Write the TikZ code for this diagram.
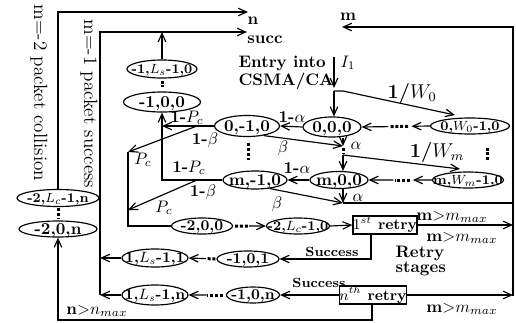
\documentclass[tikz,border=0pt]{standalone}
\usetikzlibrary{arrows.meta,shapes.geometric,calc}
\newcommand{\ct}[1]{\raisebox{-0.75ex}[0pt][0pt]{\makebox[0pt]{#1}}}
\tikzset{
  >={Straight Barb[length=5pt,width=4.5pt]},
  el/.style 2 args={ellipse,draw,inner sep=0pt,minimum width=#1*0.6pt,minimum height=#2*0.6pt,font=\bfseries},
  rbox/.style={rectangle,draw,inner sep=0pt,minimum width=34.8pt,minimum height=10.8pt,font=\small\bfseries},
  lbl/.style={inner sep=0pt,font=\bfseries},
  dotl/.style={line width=1.8pt,dash pattern=on 1.8pt off 1.1pt},
}
\begin{document}
\begin{tikzpicture}[x=0.6pt,y=-0.6pt,line width=0.7pt]
\useasboundingbox (0,0) rectangle (516,323);
% ellipses
\node[el={70}{18},font=\footnotesize\bfseries] (e1) at (162,69) {\ct{-1,$L_s$-1,0}};
\node[el={77}{20}] (e2) at (162,102) {\ct{-1,0,0}};
\node[el={65}{21}] (a0) at (247,126) {\ct{0,-1,0}};
\node[el={58}{20}] (b0) at (332,127) {\ct{0,0,0}};
\node[el={79}{16},font=\footnotesize\bfseries] (c0) at (470,126) {\ct{0,$W_0$-1,0}};
\node[el={64}{18}] (am) at (255,180) {\ct{m,-1,0}};
\node[el={58}{17}] (bm) at (339,180) {\ct{m,0,0}};
\node[el={71}{16},font=\footnotesize\bfseries] (cm) at (468,180) {\ct{m,$W_m$-1,0}};
\node[el={61}{16},font=\small\bfseries] (d1) at (202,226) {\ct{-2,0,0}};
\node[el={63}{16},font=\footnotesize\bfseries] (d2) at (298,226) {\ct{-2,$L_c$-1,0}};
\node[rbox] (r1) at (385,225) {$1^{st}$ retry};
\node[rbox] (rn) at (373,295) {$n^{th}$ retry};
\node[el={62}{16},font=\small\bfseries] (s1) at (248,259) {\ct{-1,0,1}};
\node[el={53}{16},font=\small\bfseries] (sn) at (253,295) {\ct{-1,0,n}};
\node[el={66}{18},font=\small\bfseries] (t1) at (155,258) {\ct{1,$L_s$-1,1}};
\node[el={66}{20},font=\small\bfseries] (tn) at (155,295) {\ct{1,$L_s$-1,n}};
\node[el={82}{17},font=\footnotesize\bfseries] (f1) at (58,198) {\ct{-2,$L_c$-1,n}};
\node[el={78}{16}] (f2) at (58,229) {\ct{-2,0,n}};
% coordinates
\coordinate (ntip) at (248,12);
\coordinate (stip) at (247,32);
\coordinate (mtip) at (342,27);
\coordinate (Rt) at (513,27);
\coordinate (Rb) at (513,296);
\coordinate (L1) at (100,295);
\coordinate (Itop) at (334,57);
\coordinate (K1) at (334,88);
\coordinate (K) at (334,91);
\coordinate (K2) at (343,91);
\coordinate (W0tip) at (455,115);
\coordinate (J0) at (343,146);
\coordinate (Jd) at (343,155);
\coordinate (Wmtip) at (460,169);
\coordinate (Jm) at (343,203);
\coordinate (Rm) at (513,203);
\coordinate (p0) at (197,126);
\coordinate (pc0) at (128,152);
\coordinate (pm) at (197,180);
\coordinate (pcm) at (128,210);
\coordinate (bl) at (58,320);
% texts
\node[rotate=-90,font=\fontsize{11.5}{14}\selectfont] (tcol) at (39,93) {m=-2 packet collision};
\node[rotate=-90,font=\fontsize{11.5}{14}\selectfont] (tsuc) at (89,104) {m=-1 packet success};
\node[lbl] (ln) at (253,21) {n};
\node[lbl] (ls) at (265,40) {succ};
\node[lbl] (lm) at (348,17) {m};
\node[lbl,anchor=base west] (en1) at (238,67) {Entry into};
\node[lbl,anchor=base west] (en2) at (238,85) {CSMA/CA};
\node[lbl] (lI) at (348,63) {$I_1$};
\node[lbl,font=\large\bfseries] (lw0) at (412,93) {1/$W_0$};
\node[lbl,font=\large\bfseries] (lwm) at (437,152) {1/$W_m$};
\node[lbl] (la0) at (292,117) {1-$\alpha$};
\node[lbl] (lam) at (297,168) {1-$\alpha$};
\node[lbl] (lb0) at (283,148) {$\beta$};
\node[lbl] (lbm) at (277,204) {$\beta$};
\node[lbl] (lal0) at (356,146) {$\alpha$};
\node[lbl] (lalm) at (358,198) {$\alpha$};
\node[lbl] (lp0) at (187,118) {1-$P_c$};
\node[lbl] (lpm) at (189,168) {1-$P_c$};
\node[lbl] (lq0) at (205,140) {1-$\beta$};
\node[lbl] (lqm) at (203,192) {1-$\beta$};
\node[lbl] (lc0) at (143,160) {$P_c$};
\node[lbl] (lcm) at (164,208) {$P_c$};
\node[lbl,font=\footnotesize\bfseries] (su1) at (332,252) {Success};
\node[lbl,font=\footnotesize\bfseries] (sun) at (319,283) {Success};
\node[lbl,anchor=base west] (rs1) at (395,257) {Retry};
\node[lbl,anchor=base west] (rs2) at (395,272) {stages};
\node[lbl] (mm1) at (452,217) {m${>}m_{max}$};
\node[lbl] (mm2) at (462,238) {m${>}m_{max}$};
\node[lbl] (mm3) at (462,309) {m${>}m_{max}$};
\node[lbl] (nn) at (97,311) {n${>}n_{max}$};
% connectors
\draw[->] (f1.north) |- (ntip);
\draw[->] (L1) |- (stip);
\draw[->] (e1.north) -- (e1.north |- stip);
\draw[dotl] ($(e1.south)+(0,2)$) -- ($(e2.north)+(0,-4)$);
\draw[->] (Itop) -- (K1);
\draw[->] (K) -- (K2) -- (W0tip);
\draw[->] (K) -- (b0.north -| K);
\draw[->] (b0.west) -- (a0.east);
\draw[->] (c0.west) -- ($(c0.west)!0.27!(b0.east)$);
\draw[dotl] ($(c0.west)!0.32!(b0.east)$) -- ($(c0.west)!0.58!(b0.east)$);
\draw[->] ($(c0.west)!0.61!(b0.east)$) -- (b0.east);
\draw[->] (b0.south -| J0) -- (J0);
\draw[->] (a0.-30) -- (J0);
\draw[dotl] ($(J0)+(0,2)$) -- ($(Jd)+(0,-1)$);
\draw[->] (Jd) -- (bm.north -| Jd);
\draw[->] (Jd) -- (Wmtip);
\draw[->] (bm.west) -- (am.east);
\draw[->] (cm.west) -- ($(cm.west)!0.3!(bm.east)$);
\draw[dotl] ($(cm.west)!0.35!(bm.east)$) -- ($(cm.west)!0.58!(bm.east)$);
\draw[->] ($(cm.west)!0.61!(bm.east)$) -- (bm.east);
\draw[->] (bm.south -| Jm) -- (Jm);
\draw[->] (am.-30) -- (Jm);
\draw (Jm) -- (Rm);
\draw[->] (Rb) -- (Rt) -- (mtip);
\draw[dotl] ($(a0.south)+(1,6)$) -- ($(a0.south)+(1,23)$);
\draw[dotl] ($(c0.south)+(17,13)$) -- ($(c0.south)+(17,26)$);
\draw[->] (a0.west) -- (a0.west -| e2.south);
\draw[->] (p0) -- (pc0);
\draw (pc0) |- (d1.west);
\draw[->] (am.west) -| (e2.south);
\draw[->] (pm) -- (pcm);
\draw[dotl] ($(d1.east)+(2,0)$) -- ($(d1.east)!0.45!(d2.west)$);
\draw[->] ($(d1.east)!0.48!(d2.west)$) -- (d2.west);
\draw[->] (d2.east) -- (r1.west);
\draw[->] (r1.east) -- (r1.east -| Rb);
\draw[->] (rn.east) -- (rn.east -| Rb);
\draw[->] ($(r1.south)+(-14,0)$) |- (s1.east);
\draw[->] (rn.west) -- (sn.east);
\draw[->] ($(rn.south)+(-1,0)$) |- (bl) -- (f2.south);
\draw[dotl] ($(s1.west)+(-1,0)$) -- ($(s1.west)!0.35!(t1.east)$);
\draw[->] ($(s1.west)!0.37!(t1.east)$) -- (t1.east);
\draw[dotl] ($(sn.west)+(-3,0)$) -- ($(sn.west)!0.5!(tn.east)$);
\draw[->] ($(sn.west)!0.52!(tn.east)$) -- (tn.east);
\draw[->] (t1.west) -- (t1.west -| L1);
\draw[->] (tn.west) -- (L1);
\draw[dotl] ($(f1.south)+(0,1)$) -- ($(f2.north)+(0,-1)$);
\end{tikzpicture}
\end{document}
